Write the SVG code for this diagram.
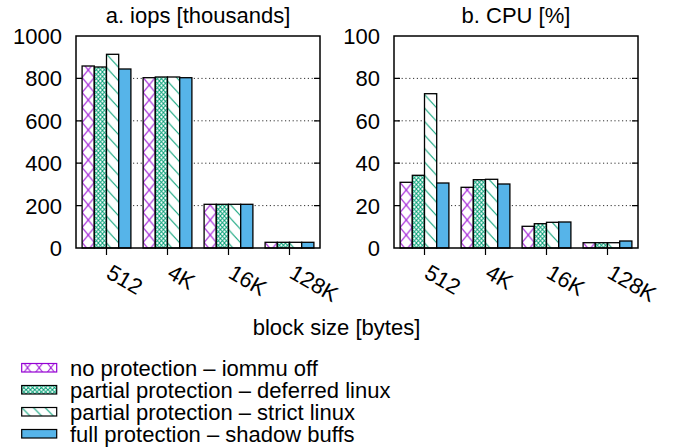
<svg xmlns="http://www.w3.org/2000/svg" width="673" height="448" viewBox="0 0 673 448">
<defs>
<style>
text{font-family:"Liberation Sans",Arial,Helvetica,sans-serif;font-size:22px;fill:#000}
.frame{fill:none;stroke:#000;stroke-width:1.5}
.grid{fill:none;stroke:#333;stroke-width:1;stroke-dasharray:1.2 2.6}
.tick{stroke:#000;stroke-width:1.2}
.bar{stroke:#000;stroke-width:1.3}
.yl{text-anchor:end}
.mid{text-anchor:middle}
.pl{stroke:#9400d3;stroke-width:1;fill:none}
.gl{stroke:#009e73;stroke-width:1;fill:none}
.blue{fill:#56b4e9}
</style>
<pattern id="p1L" patternUnits="userSpaceOnUse" x="82.1" y="2.5" width="12.2" height="15"><rect width="12.2" height="15" fill="#fff"/><path class="pl" d="M0,0L12.2,15M12.2,0L0,15"/></pattern>
<pattern id="p1R" patternUnits="userSpaceOnUse" x="400.1" y="2.5" width="12.2" height="15"><rect width="12.2" height="15" fill="#fff"/><path class="pl" d="M0,0L12.2,15M12.2,0L0,15"/></pattern>
<pattern id="p1G" patternUnits="userSpaceOnUse" x="21.7" y="360.25" width="11.67" height="15"><rect width="11.67" height="15" fill="#fff"/><path class="pl" d="M0,0L11.67,15M11.67,0L0,15"/></pattern>
<pattern id="p2L" patternUnits="userSpaceOnUse" x="94.3" y="0" width="4.067" height="4.5"><rect width="4.067" height="4.5" fill="#fff"/><path class="gl" d="M0,0L4.067,4.5M4.067,0L0,4.5"/></pattern>
<pattern id="p2R" patternUnits="userSpaceOnUse" x="412.3" y="0" width="4.067" height="4.5"><rect width="4.067" height="4.5" fill="#fff"/><path class="gl" d="M0,0L4.067,4.5M4.067,0L0,4.5"/></pattern>
<pattern id="p2G" patternUnits="userSpaceOnUse" x="21.7" y="385.5" width="4.375" height="4.25"><rect width="4.375" height="4.25" fill="#fff"/><path class="gl" d="M0,0L4.375,4.25M4.375,0L0,4.25"/></pattern>
<pattern id="p3L" patternUnits="userSpaceOnUse" x="106.5" y="0" width="12.2" height="13.5"><rect width="12.2" height="13.5" fill="#fff"/><path class="gl" d="M-1,-1.1L13.2,14.6M11.2,-1.1L13.2,1.1M-1,12.4L1,14.6"/></pattern>
<pattern id="p3R" patternUnits="userSpaceOnUse" x="424.5" y="0" width="12.2" height="13.5"><rect width="12.2" height="13.5" fill="#fff"/><path class="gl" d="M-1,-1.1L13.2,14.6M11.2,-1.1L13.2,1.1M-1,12.4L1,14.6"/></pattern>
<pattern id="p3G" patternUnits="userSpaceOnUse" x="21.7" y="407.5" width="11.67" height="12"><rect width="11.67" height="12" fill="#fff"/><path class="gl" d="M-1,-1.03L12.67,13.03M10.67,-1.03L12.67,1.03M-1,10.97L1,13.03"/></pattern>
</defs>
<rect width="673" height="448" fill="#fff"/>

<g id="panel-a">
<text class="mid" x="198" y="23">a. iops [thousands]</text>
<g id="grid-a">
<path class="grid" d="M76,205.6H320M76,163.2H320M76,120.8H320M76,78.4H320"/>
</g>
<g id="bars-a">
<rect class="bar" fill="url(#p1L)" x="82.1" y="66" width="12.2" height="182"/>
<rect class="bar" fill="url(#p2L)" x="94.3" y="67" width="12.2" height="181"/>
<rect class="bar" fill="url(#p3L)" x="106.5" y="54.3" width="12.2" height="193.7"/>
<rect class="bar blue" x="118.7" y="69" width="12.2" height="179"/>
<rect class="bar" fill="url(#p1L)" x="143.1" y="77.7" width="12.2" height="170.3"/>
<rect class="bar" fill="url(#p2L)" x="155.3" y="77" width="12.2" height="171"/>
<rect class="bar" fill="url(#p3L)" x="167.5" y="77" width="12.2" height="171"/>
<rect class="bar blue" x="179.7" y="77.7" width="12.2" height="170.3"/>
<rect class="bar" fill="url(#p1L)" x="204.1" y="204.3" width="12.2" height="43.7"/>
<rect class="bar" fill="url(#p2L)" x="216.3" y="204.3" width="12.2" height="43.7"/>
<rect class="bar" fill="url(#p3L)" x="228.5" y="204.3" width="12.2" height="43.7"/>
<rect class="bar blue" x="240.7" y="204.3" width="12.2" height="43.7"/>
<rect class="bar" fill="url(#p1L)" x="265.1" y="242.3" width="12.2" height="5.7"/>
<rect class="bar" fill="url(#p2L)" x="277.3" y="242.3" width="12.2" height="5.7"/>
<rect class="bar" fill="url(#p3L)" x="289.5" y="242.3" width="12.2" height="5.7"/>
<rect class="bar blue" x="301.7" y="242.3" width="12.2" height="5.7"/>
</g>
<rect class="frame" x="76" y="36" width="244" height="212"/>
<path class="tick" d="M76,205.6h6M76,163.2h6M76,120.8h6M76,78.4h6M320,205.6h-6M320,163.2h-6M320,120.8h-6M320,78.4h-6M106.5,248v7M167.5,248v7M228.5,248v7M289.5,248v7"/>
<g id="ylabels-a">
<text class="yl" x="62" y="256">0</text>
<text class="yl" x="62" y="213.6">200</text>
<text class="yl" x="62" y="171.2">400</text>
<text class="yl" x="62" y="128.8">600</text>
<text class="yl" x="62" y="86.4">800</text>
<text class="yl" x="62" y="44">1000</text>
</g>
<g id="xlabels-a">
<text transform="translate(105,277) rotate(30)">512</text>
<text transform="translate(166,277) rotate(30)">4K</text>
<text transform="translate(227,277) rotate(30)">16K</text>
<text transform="translate(288,277) rotate(30)">128K</text>
</g>
</g>

<g id="panel-b">
<text class="mid" x="516" y="23">b. CPU [%]</text>
<g id="grid-b">
<path class="grid" d="M394,205.6H638M394,163.2H638M394,120.8H638M394,78.4H638"/>
</g>
<g id="bars-b">
<rect class="bar" fill="url(#p1R)" x="400.1" y="182.3" width="12.2" height="65.7"/>
<rect class="bar" fill="url(#p2R)" x="412.3" y="175.3" width="12.2" height="72.7"/>
<rect class="bar" fill="url(#p3R)" x="424.5" y="93.7" width="12.2" height="154.3"/>
<rect class="bar blue" x="436.7" y="183" width="12.2" height="65"/>
<rect class="bar" fill="url(#p1R)" x="461.1" y="187.3" width="12.2" height="60.7"/>
<rect class="bar" fill="url(#p2R)" x="473.3" y="179.7" width="12.2" height="68.3"/>
<rect class="bar" fill="url(#p3R)" x="485.5" y="179.3" width="12.2" height="68.7"/>
<rect class="bar blue" x="497.7" y="184" width="12.2" height="64"/>
<rect class="bar" fill="url(#p1R)" x="522.1" y="226.3" width="12.2" height="21.7"/>
<rect class="bar" fill="url(#p2R)" x="534.3" y="223.7" width="12.2" height="24.3"/>
<rect class="bar" fill="url(#p3R)" x="546.5" y="222.3" width="12.2" height="25.7"/>
<rect class="bar blue" x="558.7" y="222" width="12.2" height="26"/>
<rect class="bar" fill="url(#p1R)" x="583.1" y="242.7" width="12.2" height="5.3"/>
<rect class="bar" fill="url(#p2R)" x="595.3" y="242.7" width="12.2" height="5.3"/>
<rect class="bar" fill="url(#p3R)" x="607.5" y="242.7" width="12.2" height="5.3"/>
<rect class="bar blue" x="619.7" y="241" width="12.2" height="7"/>
</g>
<rect class="frame" x="394" y="36" width="244" height="212"/>
<path class="tick" d="M394,205.6h6M394,163.2h6M394,120.8h6M394,78.4h6M638,205.6h-6M638,163.2h-6M638,120.8h-6M638,78.4h-6M424.5,248v7M485.5,248v7M546.5,248v7M607.5,248v7"/>
<g id="ylabels-b">
<text class="yl" x="380" y="256">0</text>
<text class="yl" x="380" y="213.6">20</text>
<text class="yl" x="380" y="171.2">40</text>
<text class="yl" x="380" y="128.8">60</text>
<text class="yl" x="380" y="86.4">80</text>
<text class="yl" x="380" y="44">100</text>
</g>
<g id="xlabels-b">
<text transform="translate(423,277) rotate(30)">512</text>
<text transform="translate(484,277) rotate(30)">4K</text>
<text transform="translate(545,277) rotate(30)">16K</text>
<text transform="translate(606,277) rotate(30)">128K</text>
</g>
</g>

<text id="xaxis-title" class="mid" x="336.5" y="335">block size [bytes]</text>

<g id="legend">
<rect x="21.7" y="363.5" width="35" height="8.5" fill="url(#p1G)" stroke="#9400d3" stroke-width="1.2"/>
<text x="70" y="376">no protection – iommu off</text>
<rect x="21.7" y="385.5" width="35" height="8.5" fill="url(#p2G)" stroke="#000" stroke-width="1.2"/>
<text x="70" y="398">partial protection – deferred linux</text>
<rect x="21.7" y="407.5" width="35" height="8.5" fill="url(#p3G)" stroke="#000" stroke-width="1.2"/>
<text x="70" y="420">partial protection – strict linux</text>
<rect x="21.7" y="429.5" width="35" height="8.5" class="blue" stroke="#000" stroke-width="1.2"/>
<text x="70" y="442">full protection – shadow buffs</text>
</g>
</svg>
